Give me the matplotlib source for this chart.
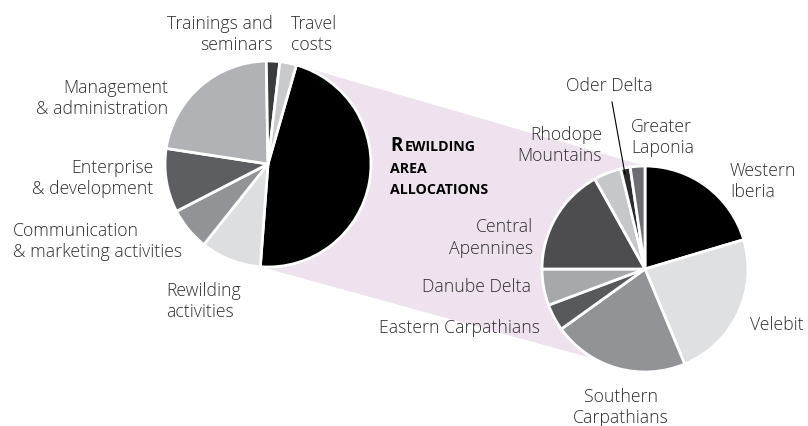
import numpy as np
import matplotlib.pyplot as plt
from matplotlib.patches import Polygon

plt.rcParams['font.family'] = ['Open Sans', 'DejaVu Sans']

# left pie: overall budget (share in %)
budget_labels = ["Rewilding area allocations", "Rewilding activities",
                 "Communication & marketing activities", "Enterprise & development",
                 "Management & administration", "Trainings and seminars", "Travel costs"]
budget_share = [46.7, 9.5, 6.7, 10.0, 22.3, 2.1, 2.6]
budget_colors = ["#000000", "#dddee0", "#929396", "#5d5e61", "#b1b2b5", "#3b3b3d", "#c9cacc"]

# right pie: split of the rewilding area allocations (share in %)
area_labels = ["Western Iberia", "Velebit", "Southern Carpathians", "Eastern Carpathians",
               "Danube Delta", "Central Apennines", "Rhodope Mountains", "Oder Delta",
               "Greater Laponia"]
area_share = [20.4, 23.3, 21.4, 4.2, 5.7, 16.9, 4.3, 1.5, 2.3]
area_colors = ["#000000", "#dfe0e2", "#929396", "#58595b", "#a7a8ab", "#4d4d4f",
               "#c6c7c9", "#2b2b2d", "#6d6e71"]

txt = "#2e2e2e"
fs = 12.7

fig = plt.figure(figsize=(8.08, 4.27), dpi=100)
ax = fig.add_axes([0, 0, 1, 1])

# y axis runs downwards, so counterclock=True draws clockwise on screen
lc, lr = (268, 165), 103
rc, rr = (645, 270), 103
w1, _ = ax.pie(budget_share, colors=budget_colors, center=lc, radius=lr,
               startangle=-74, counterclock=True,
               wedgeprops=dict(edgecolor="white", linewidth=2))
w2, _ = ax.pie(area_share, colors=area_colors, center=rc, radius=rr,
               startangle=-90, counterclock=True,
               wedgeprops=dict(edgecolor="white", linewidth=2))
for w in list(w1) + list(w2):
    w.set_zorder(3)

ax.set_xlim(0, 808)
ax.set_ylim(427, 0)
ax.set_aspect("equal")
ax.axis("off")

# shaded band linking the black wedge to the second pie
def pt(c, r, a):
    a = np.radians(a)
    return (c[0] + r * np.cos(a), c[1] + r * np.sin(a))

band = Polygon([pt(lc, lr, w1[0].theta1), pt(rc, rr, -90), pt(rc, rr, 119),
                pt(lc, lr, w1[0].theta2)], closed=True, facecolor="#ede2ee",
               edgecolor="none", zorder=1)
ax.add_patch(band)

def lab(x, y, s, ha="left"):
    # y is the baseline of the first line
    for i, line in enumerate(s.split("\n")):
        ax.text(x, y + i * 21.5, line, ha=ha, va="baseline", fontsize=fs,
                color=txt, weight="light")

lab(273, 29, "Trainings and\nseminars", "right")
lab(291, 29, "Travel\ncosts")
lab(168, 93, "Management\n& administration", "right")
lab(153, 173, "Enterprise\n& development", "right")
lab(13, 236, "Communication\n& marketing activities")
lab(166, 296, "Rewilding\nactivities")

lab(533, 232, "Central\nApennines", "right")
lab(531, 292, "Danube Delta", "right")
lab(540, 333, "Eastern Carpathians", "right")
lab(602, 140, "Rhodope\nMountains", "right")
lab(566, 91, "Oder Delta")
lab(631, 132, "Greater\nLaponia")
lab(730, 176, "Western\nIberia")
lab(750, 330, "Velebit")
lab(621, 402, "Southern\nCarpathians", "center")

# leader line for the thin Oder Delta wedge
ax.plot([612, 625], [103, 175], color="black", lw=0.8, zorder=4)

# small-caps heading
ax.text(390, 151, "R", fontsize=13.5, weight="bold", color="black", va="baseline")
ax.text(405, 151, "EWILDING", fontsize=10.2, weight="bold", color="black", va="baseline")
ax.text(390, 173, "AREA", fontsize=10.2, weight="bold", color="black", va="baseline")
ax.text(390, 194, "ALLOCATIONS", fontsize=10.2, weight="bold", color="black", va="baseline")

fig.savefig("out.png", dpi=100)
